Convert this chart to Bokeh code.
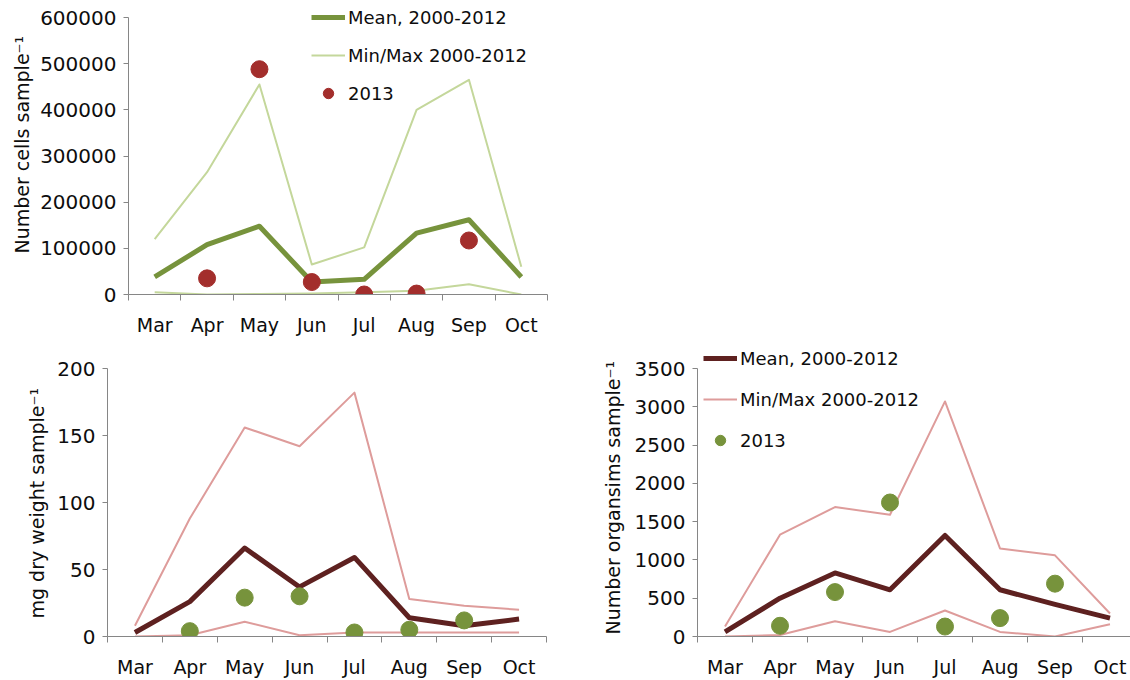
from bokeh.plotting import figure
from bokeh.models import FixedTicker, NumeralTickFormatter, Legend, LegendItem, Title
from bokeh.layouts import row, column
from bokeh.embed import file_html
from bokeh.resources import INLINE

months = ["Mar", "Apr", "May", "Jun", "Jul", "Aug", "Sep", "Oct"]
months_2013 = ["Apr", "May", "Jun", "Jul", "Aug", "Sep"]

# Panel 1: phytoplankton cells
cells_mean = [38000, 108000, 148000, 27000, 33000, 133000, 162000, 38000]
cells_max = [120000, 265000, 455000, 65000, 102000, 400000, 465000, 60000]
cells_min = [5000, 0, 1000, 2000, 5000, 8000, 22000, 0]
cells_2013 = [35000, 488000, 27000, 0, 2000, 117000]

# Panel 2: dry weight
dw_mean = [3, 26, 66, 37, 59, 14, 8, 13]
dw_max = [8, 88, 156, 142, 182, 28, 23, 20]
dw_min = [0, 1, 11, 1, 3, 3, 3, 3]
dw_2013 = [4, 29, 30, 3, 5, 12]

# Panel 3: organisms
org_mean = [60, 500, 830, 610, 1320, 610, 420, 240]
org_max = [130, 1330, 1690, 1590, 3070, 1150, 1060, 300]
org_min = [0, 20, 200, 60, 340, 60, 0, 160]
org_2013 = [140, 580, 1750, 130, 240, 690]

FONT = "DejaVu Sans"
AX = "#868686"
TXT = "#0d0d0d"

xc = [months.index(m) + 0.5 for m in months]
xc13 = [months.index(m) + 0.5 for m in months_2013]


def make(width, height, bl, br, bb, xend, ymax, ystep, data_h, pad_top,
         ylabel, label_offset, label_standoff):
    # the frame reaches pad_top px above the top tick so the legend fits inside it
    yend = ymax * (data_h + pad_top) / data_h
    p = figure(width=width, height=height, x_range=(0, xend), y_range=(0, yend),
               output_backend="svg", toolbar_location=None,
               min_border_left=bl, min_border_right=br,
               min_border_top=2, min_border_bottom=bb)
    p.outline_line_color = None
    p.grid.grid_line_color = None
    p.xaxis.ticker = FixedTicker(ticks=xc, minor_ticks=list(range(9)))
    p.xaxis.major_label_overrides = {x: m for x, m in zip(xc, months)}
    p.xaxis.major_tick_out = 0
    p.xaxis.major_tick_in = 0
    p.xaxis.minor_tick_out = 6
    p.xaxis.minor_tick_in = 0
    p.xaxis.major_label_text_font_size = "19px"
    p.xaxis.major_label_standoff = 13
    p.yaxis.ticker = FixedTicker(ticks=list(range(0, ymax + 1, ystep)))
    p.yaxis.formatter = NumeralTickFormatter(format="0")
    p.yaxis.bounds = (0, ymax)
    p.yaxis.major_tick_out = 5
    p.yaxis.major_tick_in = 0
    p.yaxis.major_label_text_font_size = "20px"
    p.yaxis.major_label_standoff = 7
    for ax in (p.xaxis, p.yaxis):
        ax.axis_line_color = AX
        ax.major_tick_line_color = AX
        ax.minor_tick_line_color = AX
        ax.major_label_text_font = FONT
        ax.major_label_text_color = TXT
    p.yaxis.minor_tick_line_color = None
    p.add_layout(Title(text=ylabel, align="left", offset=label_offset,
                       text_font=FONT, text_font_size="19px", text_font_style="normal",
                       text_color=TXT, standoff=label_standoff), "left")
    return p


def draw(p, mean, mx, mn, d13, mean_col, mm_col, dot_col, dot_size):
    r_max = p.line(xc, mx, line_color=mm_col, line_width=2, line_join="round")
    p.line(xc, mn, line_color=mm_col, line_width=2, line_join="round")
    r_mean = p.line(xc, mean, line_color=mean_col, line_width=5, line_join="round")
    r_dot = p.scatter(xc13, d13, size=dot_size, fill_color=dot_col, line_color=dot_col)
    return r_mean, r_max, r_dot


def add_legend(p, rs, x, y, spacing):
    leg = Legend(items=[LegendItem(label="Mean, 2000-2012", renderers=[rs[0]]),
                        LegendItem(label="Min/Max 2000-2012", renderers=[rs[1]]),
                        LegendItem(label="2013", renderers=[rs[2]])],
                 location=(x, y))
    leg.border_line_color = None
    leg.background_fill_alpha = 0
    leg.padding = 0
    leg.margin = 0
    leg.spacing = spacing
    leg.glyph_width = 34
    leg.glyph_height = 26
    leg.label_height = 26
    leg.label_standoff = 3
    leg.label_text_font = FONT
    leg.label_text_font_size = "18px"
    leg.label_text_color = TXT
    p.add_layout(leg, "center")


# Panel 1 (top left)
p1 = make(560, 340, 128, 13, 46, 8, 600000, 100000, 277, 15,
          "Number cells sample\u207b\u00b9", 41, 10)
rs1 = draw(p1, cells_mean, cells_max, cells_min, cells_2013,
           "#77933C", "#C4D79B", "#A32E2C", 17)
add_legend(p1, rs1, 183, 188, 12)

# Panel 2 (bottom left)
p2 = make(560, 340, 107, 14, 44, 8, 200, 50, 268, 26,
          "mg dry weight sample\u207b\u00b9", 18, 13)
draw(p2, dw_mean, dw_max, dw_min, dw_2013, "#5E2120", "#DE9C9B", "#77933C", 17)

# Panel 3 (bottom right) - axis runs past the right edge as in the original
p3 = make(570, 340, 137, 0, 44, 433 / 55, 3500, 500, 268, 26,
          "Number  organsims sample\u207b\u00b9", 2, 16)
rs3 = draw(p3, org_mean, org_max, org_min, org_2013, "#5E2120", "#DE9C9B", "#77933C", 17)
add_legend(p3, rs3, 6, 183, 15)

layout = column(row(p1), row(p2, p3))

open("out.html", "w").write(file_html(layout, INLINE))
